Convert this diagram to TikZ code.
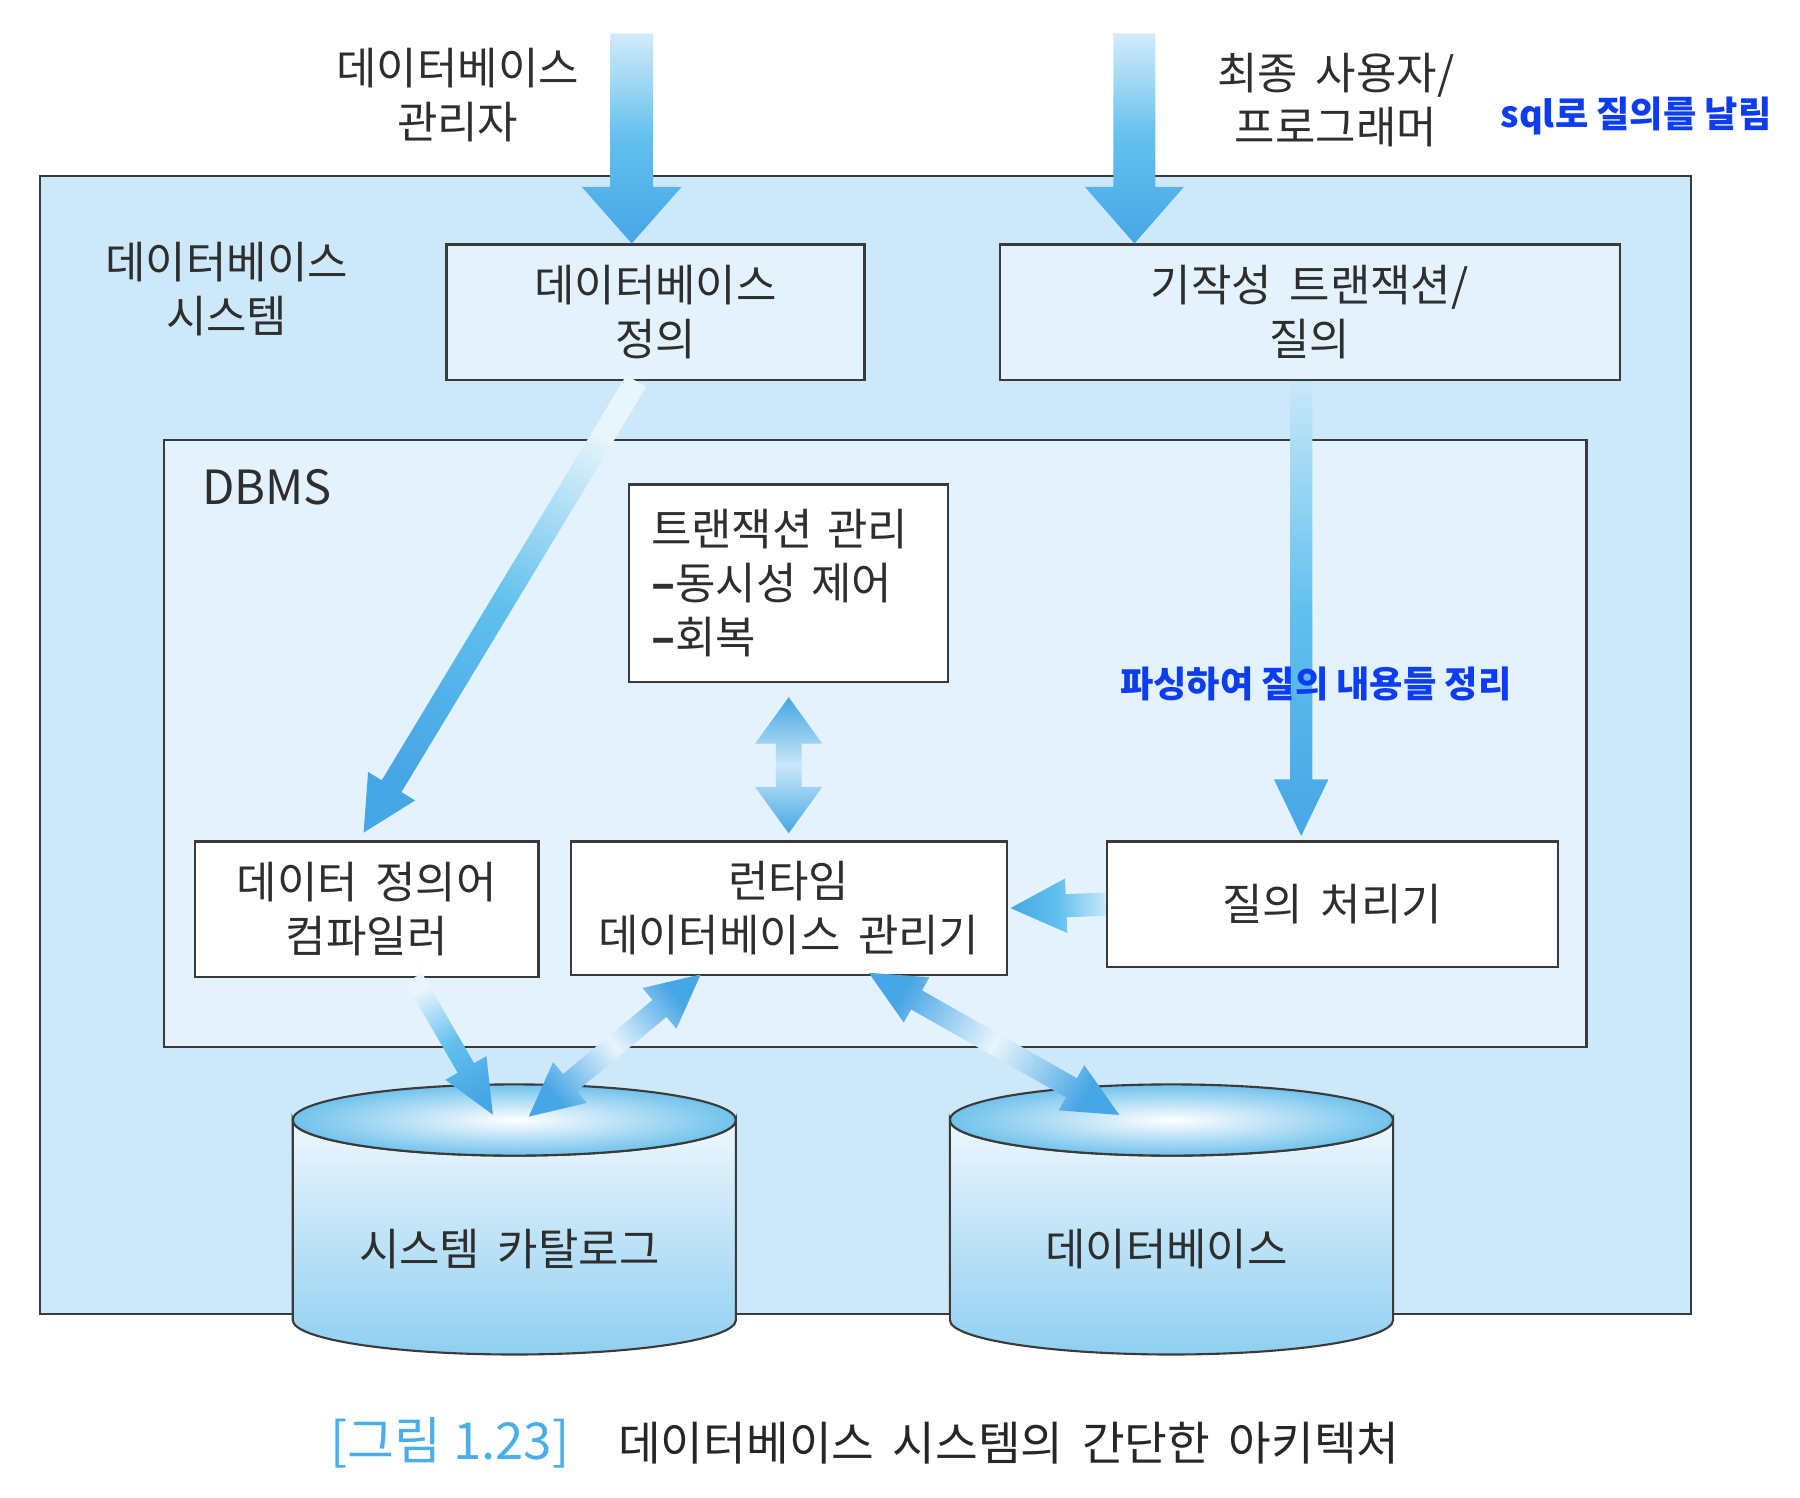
\documentclass[tikz,border=0pt]{standalone}
\usepackage{fontspec}
\setmainfont{Noto Sans CJK KR}
\usetikzlibrary{calc,positioning}

\definecolor{sysblue}{HTML}{CDE8F8}
\definecolor{paleblue}{HTML}{E3F2FC}
\definecolor{edgegray}{HTML}{3A3A3A}
\definecolor{txtgray}{HTML}{2E2E2E}
\definecolor{noteblue}{HTML}{0D3DF2}
\definecolor{capblue}{HTML}{4AAEE8}
\definecolor{arrdark}{HTML}{47A6E5}
\definecolor{arrmid}{HTML}{62C0EE}
\definecolor{arrlight}{HTML}{D2EBF9}
\definecolor{arrpale}{HTML}{C8E8F9}
\definecolor{arrwhite}{HTML}{E8F5FC}
\definecolor{cyltopc}{HTML}{EEF7FD}
\definecolor{cylbotc}{HTML}{8FCFF1}
\definecolor{cylrim}{HTML}{70C2EC}

\newcommand{\dbfont}{\fontsize{12.5}{15.3}\selectfont\spaceskip=0.4em\relax}
\newcommand{\notefont}{\bfseries\fontsize{10.3}{12}\selectfont}
\newcommand{\capfont}{\fontsize{13.2}{15}\selectfont\spaceskip=0.4em\relax}

% block arrow: [style]{from}{to}{half shaft}{half head}{head length}
\newcommand{\fatarrow}[6][]{%
  \path #2 coordinate (fa-s) #3 coordinate (fa-e);
  \coordinate (fa-h) at ($(fa-e)!#6!(fa-s)$);
  \shade[#1] ($(fa-s)!#4!90:(fa-e)$) -- ($(fa-h)!#4!90:(fa-e)$) -- ($(fa-h)!#5!90:(fa-e)$)
    -- (fa-e) -- ($(fa-h)!#5!-90:(fa-e)$) -- ($(fa-h)!#4!-90:(fa-e)$) -- ($(fa-s)!#4!-90:(fa-e)$) -- cycle;}
\newcommand{\fatdarrow}[6][]{%
  \path #2 coordinate (fa-s) #3 coordinate (fa-e);
  \coordinate (fa-h) at ($(fa-e)!#6!(fa-s)$);
  \coordinate (fa-t) at ($(fa-s)!#6!(fa-e)$);
  \shade[#1] (fa-s) -- ($(fa-t)!#5!90:(fa-e)$) -- ($(fa-t)!#4!90:(fa-e)$) -- ($(fa-h)!#4!90:(fa-e)$)
    -- ($(fa-h)!#5!90:(fa-e)$) -- (fa-e) -- ($(fa-h)!#5!-90:(fa-e)$) -- ($(fa-h)!#4!-90:(fa-e)$)
    -- ($(fa-t)!#4!-90:(fa-e)$) -- ($(fa-t)!#5!-90:(fa-e)$) -- cycle;}

\begin{document}
\begin{tikzpicture}[
    sysbox/.style={draw=edgegray, line width=0.6pt, fill=sysblue, inner sep=0pt},
    pbox/.style={draw=edgegray, line width=0.6pt, fill=paleblue, inner sep=0pt, align=center, font=\dbfont, text=txtgray},
    wbox/.style={pbox, fill=white},
    lbl/.style={align=center, font=\dbfont, text=txtgray},
    note/.style={anchor=west, inner sep=0pt, font=\notefont, text=noteblue},
    arrdown/.style={top color=arrlight, bottom color=arrdark, middle color=arrmid},
    arrboth/.style={top color=arrdark, bottom color=arrdark, middle color=arrpale},
    cylbody/.style={draw=edgegray, line width=0.6pt, top color=cyltopc, bottom color=cylbotc},
    cyltop/.style={draw=edgegray, line width=0.6pt, inner color=white, outer color=cylrim}
]
\useasboundingbox (0,0) rectangle (18,-14.98);

\node[sysbox, minimum width=16.507cm, minimum height=11.388cm] (sys) at (8.655,-7.45) {};
\node[lbl] (dba) at (4.577,-0.95) {데이터베이스\\관리자};
\node[lbl] (enduser) at (13.36,-1.0) {최종 사용자/\\프로그래머};
\node[note] (sqlnote) at (15.0,-1.16) {sql로 질의를 날림};
\node[lbl] (syslbl) at (2.267,-2.887) {데이터베이스\\시스템};
\node[pbox, minimum width=4.179cm, minimum height=1.355cm] (defn) at (6.555,-3.123) {데이터베이스\\정의};
\node[pbox, minimum width=6.199cm, minimum height=1.355cm] (pretx) at (13.098,-3.123) {기작성 트랜잭션/\\질의};

\node[sysbox, fill=paleblue, minimum width=14.223cm, minimum height=6.073cm] (dbms) at (8.753,-7.433) {};
\node[lbl, anchor=west, inner sep=0pt, font=\fontsize{13.4}{16}\selectfont] (dbmslbl) at (2.017,-4.872) {DBMS};
\node[wbox, minimum width=3.191cm, minimum height=1.975cm, text width=2.751cm, align=left, inner xsep=0.22cm] (tx) at (7.887,-5.832) {트랜잭션 관리\\{\bfseries –}동시성 제어\\{\bfseries –}회복};
\node[wbox, minimum width=3.433cm, minimum height=1.355cm] (comp) at (3.668,-9.092) {데이터 정의어\\컴파일러};
\node[wbox, minimum width=4.362cm, minimum height=1.332cm] (rt) at (7.887,-9.081) {런타임\\데이터베이스 관리기};
\node[wbox, minimum width=4.512cm, minimum height=1.251cm] (qp) at (13.322,-9.041) {질의 처리기};

\foreach \cx/\nm/\txt in {5.143/cat/시스템 카탈로그, 11.715/db/데이터베이스} {
  \shade[cylbody] (\cx-2.216,-11.2) -- (\cx-2.216,-13.2) arc[start angle=180, end angle=360, x radius=2.216, y radius=0.345]
    -- (\cx+2.216,-11.2) arc[start angle=0, end angle=-180, x radius=2.216, y radius=0.356] -- cycle;
  \shade[cyltop] (\cx,-11.2) ellipse[x radius=2.216, y radius=0.356];
  \coordinate (\nm-top) at (\cx,-11.2);
  \node[lbl] (\nm) at (\cx-0.05,-12.49) {\txt};
}

\coordinate (dbatop) at (6.317,-0.333);
\coordinate (usertop) at (11.344,-0.333);
\coordinate (qtop) at ($(pretx.south)+(-0.086,0)$);
\fatarrow[arrdown]{(dbatop)}{(dbatop |- defn.north)}{0.215cm}{0.50cm}{0.567cm}
\fatarrow[arrdown]{(usertop)}{(usertop |- pretx.north)}{0.21cm}{0.496cm}{0.567cm}
\fatarrow[arrdown, top color=arrwhite, bottom color=arrdark, middle color=arrmid, shading angle=-31]{($(defn.south)+(-0.192,0)$)}{($(comp.north)+(-0.032,0.078)$)}{0.115cm}{0.275cm}{0.542cm}
\fatarrow[arrdown, top color=arrpale, bottom color=arrdark, middle color=arrmid]{(qtop)}{($(qtop |- qp.north)+(0,0.045)$)}{0.111cm}{0.272cm}{0.565cm}
\fatdarrow[arrboth]{($(tx.south)+(0,-0.142)$)}{($(rt.north)+(0,0.071)$)}{0.129cm}{0.336cm}{0.464cm}
\fatarrow[arrdown, top color=arrpale, bottom color=arrdark, middle color=arrmid, shading angle=270]{(qp.west)}{($(rt.east)+(0.026,0)$)}{0.116cm}{0.273cm}{0.558cm}
\fatarrow[arrdown, top color=arrwhite, bottom color=arrdark, middle color=arrmid, shading angle=30]{($(comp.south)+(0.47,0)$)}{($(cat-top)+(-0.214,0.053)$)}{0.095cm}{0.237cm}{0.54cm}
\fatdarrow[arrboth, middle color=arrwhite, shading angle=-50]{($(rt.south)+(-0.88,0.014)$)}{($(cat-top)+(0.145,0.034)$)}{0.11cm}{0.265cm}{0.535cm}
\fatdarrow[arrboth, middle color=arrwhite, shading angle=60]{($(rt.south)+(0.80,0.03)$)}{($(db-top)+(-0.522,0.051)$)}{0.11cm}{0.26cm}{0.55cm}

\node[note] (parsenote) at (11.195,-6.836) {파싱하여 질의 내용들 정리};

\node[anchor=west, inner sep=0pt, font=\fontsize{14.5}{16}\selectfont, text=capblue] (figno) at (3.30,-14.43) {[그림 1.23]};
\node[anchor=west, inner sep=0pt, font=\capfont, text=black!85] (figcap) at (6.176,-14.43) {데이터베이스 시스템의 간단한 아키텍처};
\end{tikzpicture}
\end{document}
